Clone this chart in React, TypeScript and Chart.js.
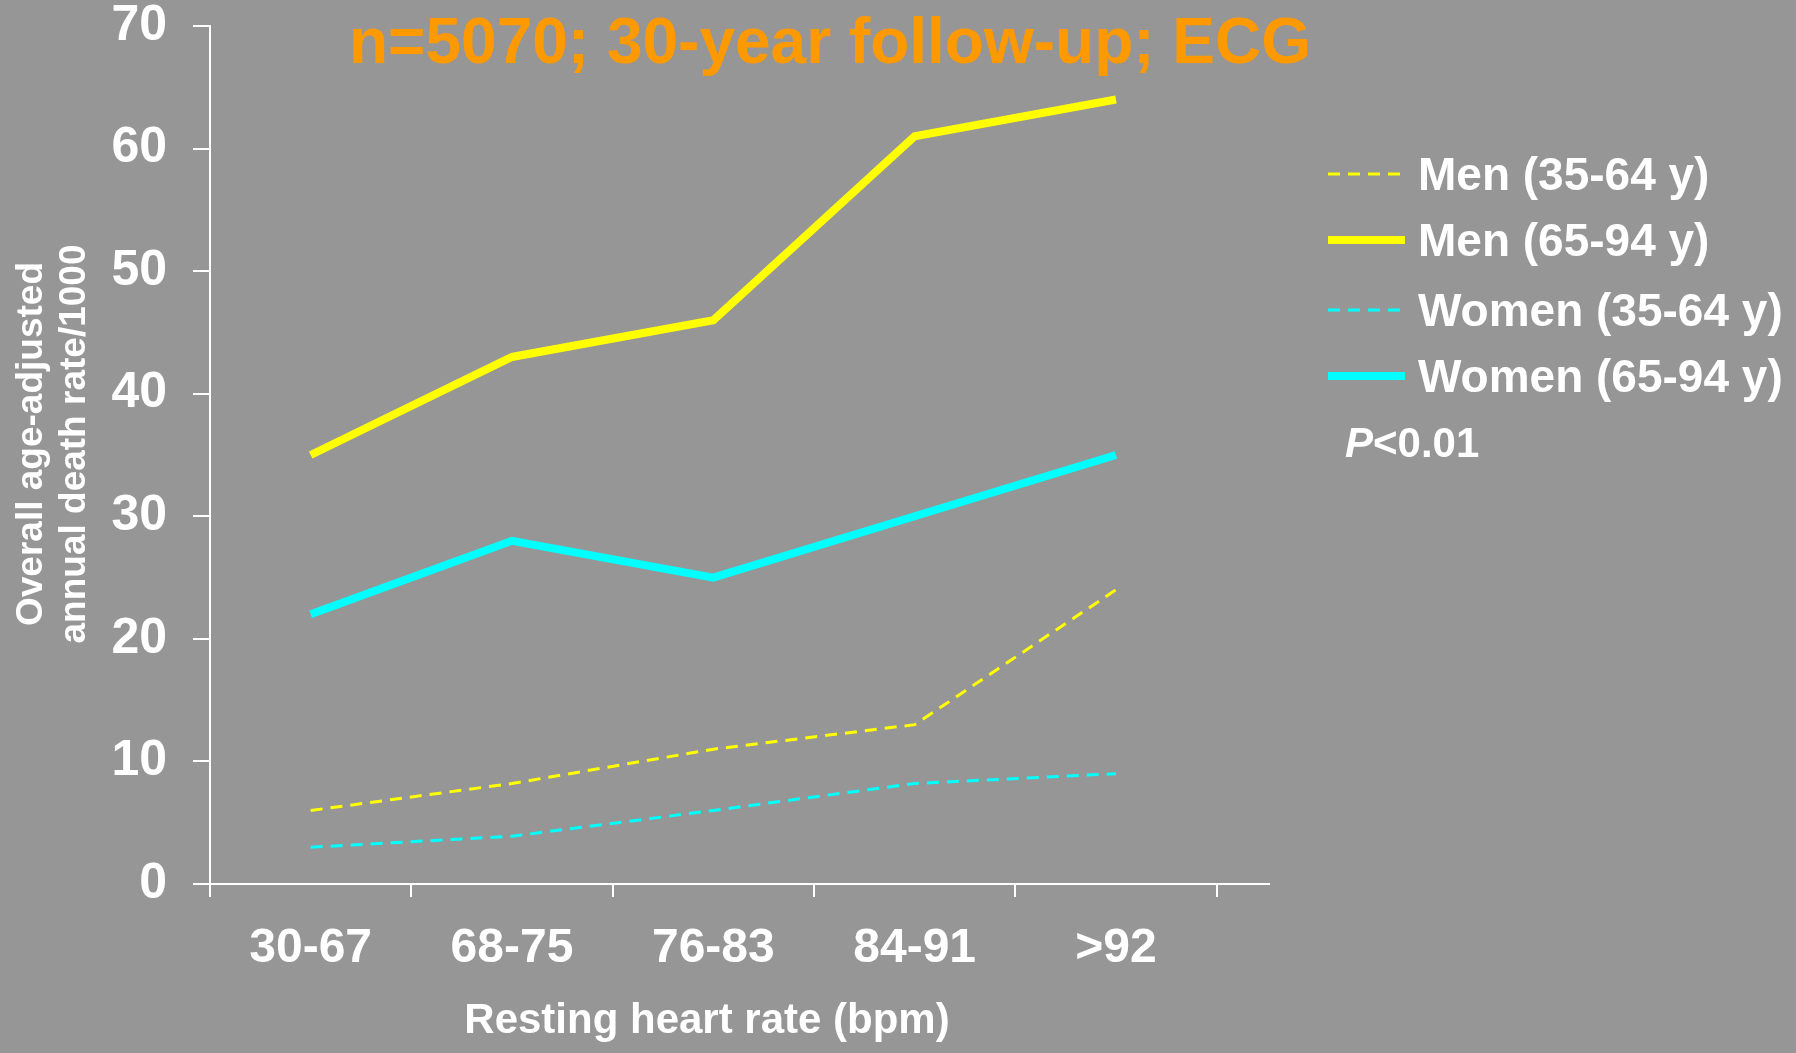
import React, { useEffect, useRef } from "react";
import { Chart, registerables } from "chart.js";

Chart.register(...registerables);

// ---- data ----
const categories = ["30-67", "68-75", "76-83", "84-91", ">92"];
const seriesLabels = ["Men (35-64 y)", "Men (65-94 y)", "Women (35-64 y)", "Women (65-94 y)"];
const menYoung = [6, 8.2, 11, 13, 24];
const menOld = [35, 43, 46, 61, 64];
const womenYoung = [3, 3.9, 6, 8.2, 9];
const womenOld = [22, 28, 25, 30, 35];
const yTickValues = [0, 10, 20, 30, 40, 50, 60, 70];
const chartTitle = "n=5070; 30-year follow-up; ECG";
const xTitle = "Resting heart rate (bpm)";
const yTitleLines = ["Overall age-adjusted", "annual death rate/1000"];
const pValueItalic = "P";
const pValueRest = "<0.01";

const FONT = '"Liberation Sans", Arial, sans-serif';
const YELLOW = "#FFFF00";
const CYAN = "#00FFFF";
const BG = "#969696";

const toPoints = (arr: number[]) => arr.map((v, i) => ({ x: i, y: v }));

const textPlugin = {
  id: "textPlugin",
  afterDraw(chart: any) {
    const ctx = chart.ctx as CanvasRenderingContext2D;
    ctx.save();
    // main title
    ctx.fillStyle = "#FF9900";
    ctx.font = `bold 64px ${FONT}`;
    ctx.textAlign = "center";
    ctx.textBaseline = "alphabetic";
    ctx.fillText(chartTitle, 830, 63);

    // x title
    ctx.fillStyle = "#FFFFFF";
    ctx.font = `bold 42px ${FONT}`;
    ctx.fillText(xTitle, 707, 1033);

    // y title
    ctx.save();
    ctx.translate(0, 444);
    ctx.rotate(-Math.PI / 2);
    ctx.font = `bold 37px ${FONT}`;
    ctx.textAlign = "center";
    ctx.fillText(yTitleLines[0], 0, 42);
    ctx.fillText(yTitleLines[1], 0, 85);
    ctx.restore();

    // legend
    const rowY = [174, 240, 310, 376];
    chart.data.datasets.forEach((ds: any, i: number) => {
      const y = rowY[i];
      ctx.save();
      ctx.strokeStyle = ds.borderColor;
      ctx.lineWidth = ds.borderWidth;
      ctx.lineCap = "butt";
      ctx.setLineDash(ds.borderDash || []);
      ctx.beginPath();
      ctx.moveTo(1328, y);
      ctx.lineTo(ds.borderDash ? 1400 : 1405, y);
      ctx.stroke();
      ctx.restore();
      ctx.fillStyle = "#FFFFFF";
      ctx.font = `bold 46px ${FONT}`;
      ctx.textAlign = "left";
      ctx.fillText(ds.label, 1418, y + 16);
    });

    // p-value
    ctx.textAlign = "left";
    ctx.font = `italic bold 42px ${FONT}`;
    ctx.fillText(pValueItalic, 1345, 457);
    const w = ctx.measureText(pValueItalic).width;
    ctx.font = `bold 42px ${FONT}`;
    ctx.fillText(pValueRest, 1345 + w, 457);
    ctx.restore();
  },
};

export default function App() {
  const ref = useRef<HTMLCanvasElement | null>(null);

  useEffect(() => {
    if (!ref.current) return;
    const chart = new Chart(ref.current, {
      type: "line",
      data: {
        datasets: [
          {
            label: seriesLabels[0],
            data: toPoints(menYoung),
            borderColor: YELLOW,
            borderWidth: 3,
            borderDash: [12, 8],
            pointRadius: 0,
            fill: false,
          },
          {
            label: seriesLabels[1],
            data: toPoints(menOld),
            borderColor: YELLOW,
            borderWidth: 8,
            pointRadius: 0,
            fill: false,
          },
          {
            label: seriesLabels[2],
            data: toPoints(womenYoung),
            borderColor: CYAN,
            borderWidth: 3,
            borderDash: [12, 8],
            pointRadius: 0,
            fill: false,
          },
          {
            label: seriesLabels[3],
            data: toPoints(womenOld),
            borderColor: CYAN,
            borderWidth: 8,
            pointRadius: 0,
            fill: false,
          },
        ],
      },
      options: {
        responsive: false,
        animation: false,
        devicePixelRatio: 1,
        layout: { padding: { top: 26, right: 527, bottom: 0, left: 0 } },
        plugins: {
          legend: { display: false },
          title: { display: false },
          tooltip: { enabled: false },
        },
        scales: {
          x: {
            type: "linear",
            min: -0.5,
            max: 4.76,
            afterBuildTicks: (scale: any) => {
              const t: { value: number }[] = [];
              for (let i = 0; i <= categories.length; i++) {
                t.push({ value: i - 0.5 });
                if (i < categories.length) t.push({ value: i });
              }
              scale.ticks = t;
            },
            afterFit: (scale: any) => {
              scale.height = 169;
              scale.paddingLeft = 0;
              scale.paddingRight = 0;
            },
            ticks: {
              autoSkip: false,
              maxRotation: 0,
              minRotation: 0,
              padding: 23,
              color: "#FFFFFF",
              font: { family: FONT, size: 48, weight: "bold", lineHeight: 1.2 },
              callback: (value: any) =>
                Number.isInteger(value) ? categories[value] : "",
            },
            grid: {
              drawOnChartArea: false,
              drawTicks: true,
              tickLength: 13,
              lineWidth: 2,
              tickColor: (c: any) =>
                c.tick && Number.isInteger(c.tick.value) ? "rgba(0,0,0,0)" : "#FFFFFF",
            },
            border: { display: true, color: "#FFFFFF", width: 2 },
          },
          y: {
            type: "linear",
            min: 0,
            max: 70,
            afterBuildTicks: (scale: any) => {
              scale.ticks = yTickValues.map((v) => ({ value: v }));
            },
            afterFit: (scale: any) => {
              scale.width = 210;
              scale.paddingTop = 0;
              scale.paddingBottom = 0;
            },
            ticks: {
              padding: 26,
              color: "#FFFFFF",
              font: { family: FONT, size: 50, weight: "bold", lineHeight: 1 },
            },
            grid: {
              drawOnChartArea: false,
              drawTicks: true,
              tickLength: 17,
              lineWidth: 2,
              tickColor: "#FFFFFF",
            },
            border: { display: true, color: "#FFFFFF", width: 2 },
          },
        },
      },
      plugins: [textPlugin],
    } as any);
    return () => chart.destroy();
  }, []);

  return (
    <div
      style={{
        position: "fixed",
        left: 0,
        top: 0,
        width: 1796,
        height: 1053,
        background: BG,
      }}
    >
      <canvas ref={ref} width={1796} height={1053} style={{ display: "block" }} />
    </div>
  );
}
